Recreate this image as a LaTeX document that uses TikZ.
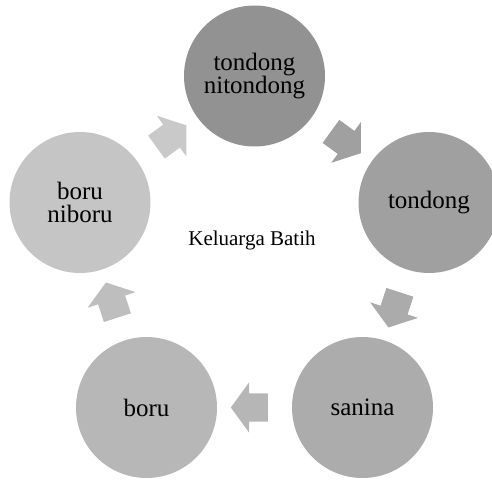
\documentclass[tikz,border=0pt]{standalone}
\usepackage{fontspec}
\setmainfont{Liberation Serif}
\usepackage{tikz}
\usetikzlibrary{shapes.arrows, calc}

\definecolor{grayA}{HTML}{929292}
\definecolor{grayB}{HTML}{A0A0A0}
\definecolor{grayC}{HTML}{ACACAC}
\definecolor{grayD}{HTML}{B7B7B7}
\definecolor{grayE}{HTML}{C5C5C5}
\definecolor{arrowA}{HTML}{A0A0A0}
\definecolor{arrowB}{HTML}{ABABAB}
\definecolor{arrowC}{HTML}{B6B6B6}
\definecolor{arrowD}{HTML}{BEBEBE}
\definecolor{arrowE}{HTML}{C9C9C9}

\tikzset{
    member/.style={circle, minimum size=141pt, inner sep=0pt, align=center,
        font=\fontsize{25}{23}\selectfont},
    flowarrow/.style={single arrow, inner xsep=0pt, inner ysep=14pt,
        minimum height=37pt, single arrow head extend=11pt,
        single arrow tip angle=108, single arrow head indent=0pt}
}

\begin{document}
\begin{tikzpicture}[x=1pt, y=1pt]
        \useasboundingbox (0,0) rectangle (492,480);

        \node[member, fill=grayA] (tn) at (254.5,404) {tondong\\nitondong};
        \node[member, fill=grayB] (td) at (429,277.5) {tondong};
        \node[member, fill=grayC] (sn) at (362.5,72.5) {sanina};
        \node[member, fill=grayD] (br) at (146.5,72.5) {boru};
        \node[member, fill=grayE] (bn) at (80,277.5) {boru\\niboru};

        \node[font=\fontsize{21}{24}\selectfont] (kb) at (252,240) {Keluarga Batih};

        \node[flowarrow, fill=arrowA, rotate=-36] (a1) at ($(tn)!0.5!(td)$) {};
        \node[flowarrow, fill=arrowB, rotate=-108] (a2) at ($(td)!0.5!(sn)$) {};
        \node[flowarrow, fill=arrowC, rotate=180] (a3) at ($(sn)!0.5!(br)$) {};
        \node[flowarrow, fill=arrowD, rotate=108] (a4) at ($(br)!0.5!(bn)$) {};
        \node[flowarrow, fill=arrowE, rotate=36] (a5) at ($(bn)!0.5!(tn)$) {};
    \end{tikzpicture}
\end{document}
